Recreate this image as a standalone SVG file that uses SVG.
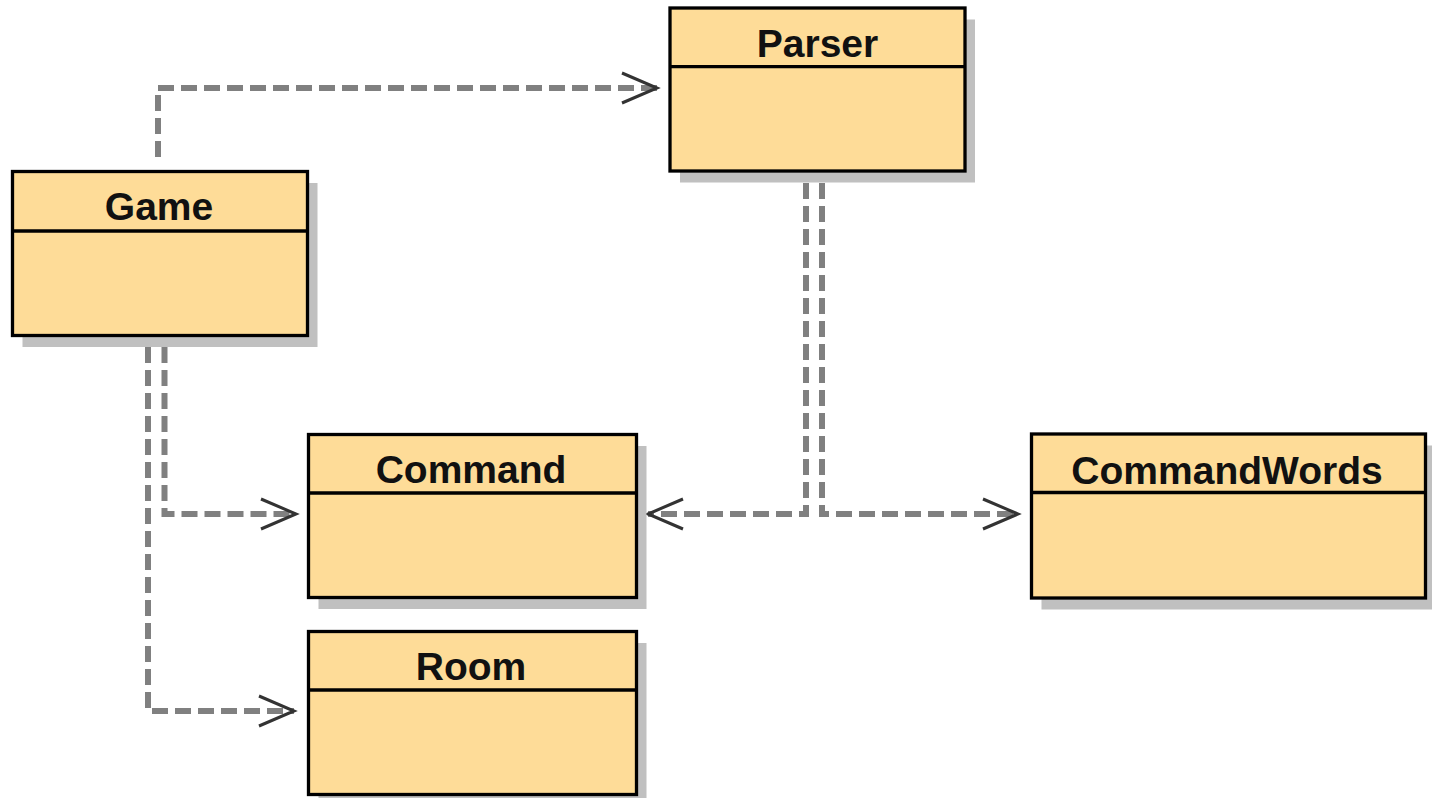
<svg xmlns="http://www.w3.org/2000/svg" width="1432" height="798" viewBox="0 0 1432 798">
<style>
.shadow{fill:#c0c0c0;stroke:none}
.box{fill:#fedc98;stroke:#000;stroke-width:3.3}
.div{stroke:#000;stroke-width:3.3}
.title{font-family:"Liberation Sans",Arial,sans-serif;font-weight:bold;font-size:39px;fill:#111;text-anchor:middle}
.dep{fill:none;stroke:#808080;stroke-width:6;stroke-dasharray:16 7;marker-end:url(#open)}
</style>
<defs>
<marker id="open" markerUnits="userSpaceOnUse" orient="auto" viewBox="-40 -20 44 40" markerWidth="44" markerHeight="40" refX="0" refY="0">
<path d="M-35,-15 L0,0 L-35,15" fill="none" stroke="#333" stroke-width="3" stroke-dasharray="none"/>
</marker>
</defs>
<rect width="1432" height="798" fill="#fff"/>
<g id="connectors">
<path class="dep" d="M158,157 V88 H657"/>
<path class="dep" d="M164.5,347 V514 H296"/>
<path class="dep" d="M148,347 V711 H294"/>
<path class="dep" d="M806,183 V514 H648"/>
<path class="dep" d="M822,183 V514 H1018"/>
</g>
<g id="Game">
<rect class="shadow" x="22.5" y="183" width="295" height="164"/>
<rect class="box" x="12.5" y="171.5" width="295" height="164"/>
<line class="div" x1="12.5" y1="231" x2="307.5" y2="231"/>
<text class="title" x="159" y="220">Game</text>
</g>
<g id="Parser">
<rect class="shadow" x="680" y="19.5" width="295" height="163"/>
<rect class="box" x="670" y="8" width="295" height="163"/>
<line class="div" x1="670" y1="66.7" x2="965" y2="66.7"/>
<text class="title" x="817.5" y="57">Parser</text>
</g>
<g id="Command">
<rect class="shadow" x="318.5" y="446" width="328" height="163"/>
<rect class="box" x="308.5" y="434.5" width="328" height="163"/>
<line class="div" x1="308.5" y1="493" x2="636.5" y2="493"/>
<text class="title" x="471" y="483">Command</text>
</g>
<g id="CommandWords">
<rect class="shadow" x="1041.5" y="445.5" width="394" height="164"/>
<rect class="box" x="1031.5" y="434" width="394" height="164"/>
<line class="div" x1="1031.5" y1="492.5" x2="1425.5" y2="492.5"/>
<text class="title" x="1227" y="484">CommandWords</text>
</g>
<g id="Room">
<rect class="shadow" x="318.5" y="643" width="328" height="163"/>
<rect class="box" x="308.5" y="631.5" width="328" height="163"/>
<line class="div" x1="308.5" y1="690" x2="636.5" y2="690"/>
<text class="title" x="471" y="680">Room</text>
</g>
</svg>
